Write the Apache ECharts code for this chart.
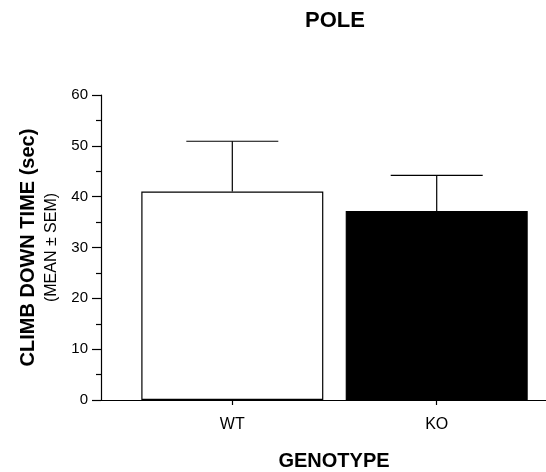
<!DOCTYPE html>
<html>
<head>
<meta charset="utf-8">
<script src="https://cdn.jsdelivr.net/npm/echarts@6/dist/echarts.min.js"></script>
<style>
  html, body { margin: 0; padding: 0; background: #fff; }
  #chart { width: 546px; height: 472px; }
</style>
</head>
<body>
<div id="chart"></div>
<script>
// data
const categories = ['WT', 'KO']
const positions = [1, 2]
const means = [41, 37.2]
const sems = [9.9, 7.0]
const yTicks = [0, 10, 20, 30, 40, 50, 60]

const font = '"Liberation Sans", Arial, Helvetica, sans-serif'
const barColors = ['#ffffff', '#000000']

const chart = echarts.init(document.getElementById('chart'))

const option = {
  animation: false,
  backgroundColor: '#fff',
  textStyle: { fontFamily: font, color: '#000' },
  title: {
    text: 'POLE',
    left: 305,
    top: 10,
    padding: 0,
    textStyle: { fontFamily: font, fontSize: 22, fontWeight: 'bold', color: '#000' },
  },
  grid: {
    left: 101,
    right: 0,
    top: 95,
    bottom: 72,
    outerBoundsMode: 'none', // keep the plot where it is, labels may overflow
  },
  xAxis: {
    type: 'value',
    min: 0.3576,
    max: 2.5347,
    name: 'GENOTYPE',
    nameLocation: 'middle',
    nameGap: 51,
    nameTextStyle: {
      fontFamily: font, fontSize: 20, fontWeight: 'bold', color: '#000',
      padding: [0, 0, 0, 21],
    },
    splitLine: { show: false },
    axisLine: { show: true, lineStyle: { color: '#000', width: 1.2 } },
    axisTick: {
      show: true, length: 5, customValues: positions,
      lineStyle: { color: '#000', width: 1.2 },
    },
    axisLabel: {
      customValues: positions,
      margin: 17,
      fontSize: 16,
      color: '#000',
      formatter: (v) => categories[positions.indexOf(v)] || '',
    },
  },
  yAxis: {
    type: 'value',
    min: yTicks[0],
    max: yTicks[yTicks.length - 1],
    interval: 10,
    name: '{a|CLIMB DOWN TIME (sec)}\n{b|(MEAN ± SEM)}',
    nameLocation: 'middle',
    nameRotate: 90,
    nameGap: 40,
    nameTextStyle: {
      rich: {
        a: { fontFamily: font, fontSize: 20, fontWeight: 'bold', color: '#000', lineHeight: 30 },
        b: { fontFamily: font, fontSize: 16, color: '#000', lineHeight: 18 },
      },
    },
    splitLine: { show: false },
    axisLine: { show: true, lineStyle: { color: '#000', width: 1.2 } },
    axisTick: { show: true, length: 9, lineStyle: { color: '#000', width: 1.2 } },
    minorTick: { show: true, splitNumber: 2, length: 5, lineStyle: { color: '#000', width: 1.2 } },
    axisLabel: { margin: 13, fontSize: 15, color: '#000' },
  },
  series: [
    {
      type: 'bar',
      barWidth: 182,
      data: means.map((m, i) => ({
        value: [positions[i], m],
        itemStyle: { color: barColors[i], borderColor: '#000', borderWidth: 1.2 },
      })),
    },
    {
      // error bars: mean -> mean + sem, with a cap
      type: 'custom',
      z: 1,
      data: means.map((m, i) => [positions[i], m, m + sems[i]]),
      renderItem: (params, api) => {
        const base = api.coord([api.value(0), api.value(1)])
        const top = api.coord([api.value(0), api.value(2)])
        const half = 46
        return {
          type: 'group',
          children: [
            { type: 'line', shape: { x1: base[0], y1: base[1], x2: top[0], y2: top[1] }, style: { stroke: '#000', lineWidth: 1.2 } },
            { type: 'line', shape: { x1: top[0] - half, y1: top[1], x2: top[0] + half, y2: top[1] }, style: { stroke: '#000', lineWidth: 1.2 } },
          ],
        }
      },
    },
  ],
}

chart.setOption(option)
</script>
</body>
</html>
